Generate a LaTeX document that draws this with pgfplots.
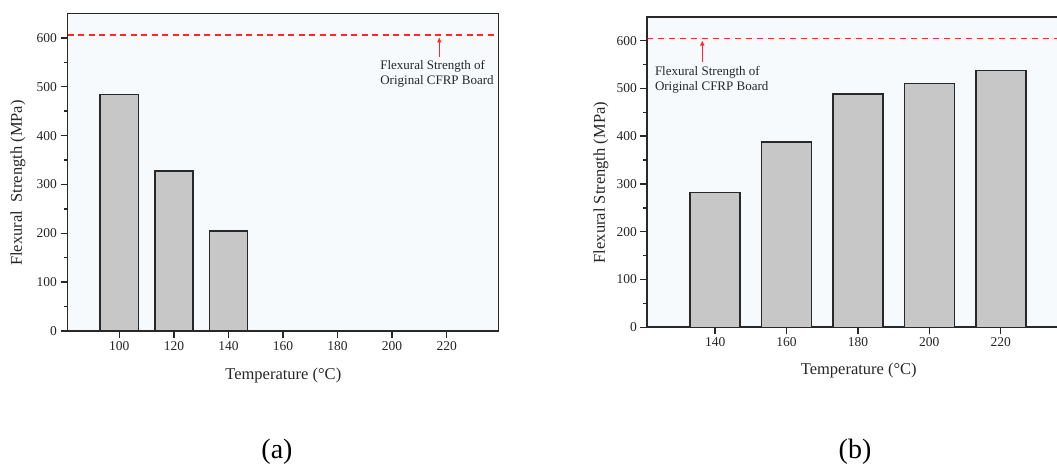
\documentclass[border=0pt]{standalone}
\usepackage{fontspec}
\setmainfont{Liberation Serif}
\usepackage{pgfplots}
\pgfplotsset{compat=1.18}
\usetikzlibrary{arrows.meta}
\definecolor{bgc}{RGB}{246,250,253}
\definecolor{barc}{RGB}{199,199,199}
\definecolor{edgec}{RGB}{40,40,40}
\definecolor{refred}{RGB}{255,40,40}

\pgfplotstableread{
T   S
100 484
120 327
140 205
}\dataA
\pgfplotstableread{
T   S
140 282
160 388
180 488
200 510
220 537
}\dataB

\tikzset{
  reftxt/.style={anchor=north west, inner sep=0pt, align=left, text=black!85,
    font=\fontsize{13}{15}\selectfont},
}
\pgfplotsset{
  panel/.style={
    scale only axis,
    anchor=south west,
    ymin=0, ymax=650,
    ytick={0,100,...,600},
    minor y tick num=1,
    xtick={100,120,...,220},
    tick align=outside,
    xtick pos=bottom, ytick pos=left,
    major tick length=7pt, minor tick length=4pt,
    axis line style={edgec, line width=1.7pt},
    every tick/.style={edgec, line width=1.4pt},
    axis background/.style={fill=bgc},
    tick label style={font=\fontsize{13.5}{15}\selectfont, text=black!85},
    /pgf/number format/assume math mode=true,
  },
  bars/.style={ybar, bar width=14, bar shift=0pt, fill=barc, draw=edgec, line width=1.6pt},
}

\begin{document}
\begin{tikzpicture}[x=1pt,y=1pt]
\useasboundingbox (0,0) rectangle (1057,464);
\clip (0,0) rectangle (1057,464);

% panel (a)
\begin{axis}[panel,
  at={(67.5pt,133pt)}, width=431pt, height=317.5pt,
  xmin=81, xmax=239,
  xlabel={Temperature (°C)},
  ylabel={Flexural\ \ Strength (MPa)},
  xlabel style={at={(axis description cs:0.5007,-0.139)}, anchor=center,
    font=\fontsize{16.5}{18}\selectfont, text=black!85},
  ylabel style={at={(axis description cs:-0.115,0.466)}, anchor=center,
    font=\fontsize{16.5}{18}\selectfont, text=black!85},
]
\addplot[bars] table[x=T, y=S] {\dataA};
\addplot[draw=refred, mark=none, line width=2pt, dash pattern=on 6pt off 4.5pt] coordinates {(81,605) (237.5,605)};
\draw[draw=refred, line width=1.3pt, -{Triangle[length=5pt,width=4pt]}] (axis cs:217.3,561) -- (axis cs:217.3,601);
\node[reftxt] at (axis cs:195.6,555) {Flexural Strength of\\Original CFRP Board};
\end{axis}

% panel (b)
\begin{axis}[panel,
  at={(647.3pt,136.7pt)}, width=421.3pt, height=310.6pt,
  xmin=121, xmax=239,
  xtick={140,160,...,220},
  xlabel={Temperature (°C)},
  ylabel={Flexural Strength (MPa)},
  xlabel style={at={(axis description cs:0.502,-0.14)}, anchor=center,
    font=\fontsize{16.5}{18}\selectfont, text=black!85},
  ylabel style={at={(axis description cs:-0.11,0.466)}, anchor=center,
    font=\fontsize{16.5}{18}\selectfont, text=black!85},
]
\addplot[bars] table[x=T, y=S] {\dataB};
\addplot[draw=refred, mark=none, line width=1.5pt, dash pattern=on 5.5pt off 5.5pt] coordinates {(121,604) (239,604)};
\draw[draw=refred, line width=1.3pt, -{Triangle[length=5pt,width=4pt]}] (axis cs:136.4,555) -- (axis cs:136.4,600);
\node[reftxt] at (axis cs:123.1,547) {Flexural Strength of\\Original CFRP Board};
\end{axis}

\node[font=\fontsize{28}{30}\selectfont] at (277,12) {(a)};
\node[font=\fontsize{28}{30}\selectfont] at (855,12.5) {(b)};
\end{tikzpicture}
\end{document}
